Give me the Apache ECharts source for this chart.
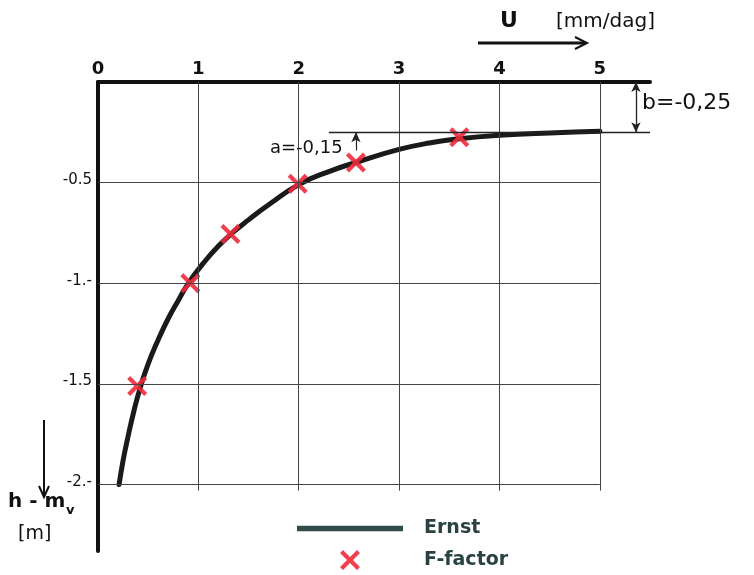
<!DOCTYPE html>
<html><head><meta charset="utf-8">
<script src="https://cdn.jsdelivr.net/npm/echarts@6/dist/echarts.min.js"></script>
<style>html,body{margin:0;padding:0;background:#fff}#c{width:754px;height:575px}</style>
</head><body><div id="c"></div>
<script>
// ---- data ----
const xTickValues = [0, 1, 2, 3, 4, 5];
const xTickLabels = ['0', '1', '2', '3', '4', '5'];
const yTickValues = [-0.5, -1, -1.5, -2];
const yTickLabels = ['-0.5', '-1.-', '-1.5', '-2.-'];
const xGrid = [1, 2, 3, 4, 5];
const yGrid = [-0.5, -1, -1.5, -2];
const ernstU = [0.21, 0.25, 0.30, 0.36, 0.42, 0.50, 0.60, 0.70, 0.80, 0.90, 1.05, 1.20, 1.35, 1.50, 1.70, 2.00, 2.30, 2.60, 3.00, 3.30, 3.60, 4.00, 4.50, 5.00];
const ernstH = [-2.00, -1.88, -1.76, -1.63, -1.52, -1.40, -1.28, -1.175, -1.085, -1.00, -0.90, -0.815, -0.745, -0.685, -0.61, -0.51, -0.445, -0.395, -0.335, -0.303, -0.282, -0.265, -0.253, -0.245];
const fU = [0.39, 0.92, 1.32, 1.99, 2.57, 3.6];
const fH = [-1.51, -1.0, -0.755, -0.505, -0.40, -0.275];
const bValue = -0.25;
const aLevel = -0.34;

const FONT = 'DejaVu Sans';
const RED = '#ee2a3c';
const XPATH = 'path://M0,3 L3,0 L10,7 L17,0 L20,3 L13,10 L20,17 L17,20 L10,13 L3,20 L0,17 L7,10 Z';
const BAR = 'path://M0,0 L100,0 L100,5 L0,5 Z';

const gridLines = [];
xGrid.forEach(v => gridLines.push([{coord: [v, 0]}, {coord: [v, -2.03]}]));
yGrid.forEach(v => gridLines.push([{coord: [0, v]}, {coord: [5, v]}]));

const chart = echarts.init(document.getElementById('c'));
chart.setOption({
  animation: false,
  grid: {left: 98, top: 82, width: 552, height: 469},
  xAxis: {
    type: 'value', position: 'top', min: 0, max: 5.5,
    axisLine: {show: true, onZero: false, lineStyle: {color: '#111', width: 4}},
    axisTick: {show: false},
    splitLine: {show: false},
    axisLabel: {
      customValues: xTickValues,
      formatter: v => xTickLabels[xTickValues.indexOf(v)] ?? '',
      fontSize: 18, fontWeight: 'bold', color: '#111', fontFamily: FONT, margin: 4
    }
  },
  yAxis: {
    type: 'value', min: -2.33, max: 0,
    axisLine: {show: true, onZero: false, lineStyle: {color: '#111', width: 4}},
    axisTick: {show: false},
    splitLine: {show: false},
    axisLabel: {
      customValues: yTickValues,
      formatter: v => yTickLabels[yTickValues.indexOf(v)] ?? '',
      fontSize: 15, color: '#111', fontFamily: FONT, margin: 6,
      verticalAlign: 'bottom', padding: [0, 0, -5, 0]
    }
  },
  legend: {
    orient: 'vertical', left: 297, top: 519, padding: 0, itemWidth: 106, itemHeight: 20, itemGap: 12,
    symbolKeepAspect: true,
    textStyle: {fontSize: 19, fontWeight: 'bold', color: '#2b4242', fontFamily: FONT, padding: [0, 0, 0, 16]},
    data: [
      {name: 'Ernst', icon: BAR, itemStyle: {color: '#2f4b4b'}},
      {name: 'F-factor', icon: XPATH, itemStyle: {color: RED}}
    ]
  },
  series: [
    {
      name: 'gridlines', type: 'line', data: [], z: 1, silent: true,
      markLine: {
        silent: true, symbol: 'none', animation: false,
        label: {show: false},
        lineStyle: {color: '#444', width: 1, type: 'solid'},
        data: gridLines.concat([
          [{coord: [2.3, bValue], lineStyle: {color: '#222', width: 1.3}}, {coord: [5.5, bValue]}],
          [{coord: [5.36, 0], symbol: 'arrow', lineStyle: {color: '#222', width: 1.3}}, {coord: [5.36, bValue], symbol: 'arrow'}],
          [{coord: [2.57, aLevel], symbol: 'none', lineStyle: {color: '#222', width: 1.2}}, {coord: [2.57, bValue], symbol: 'arrow'}]
        ]),
        symbolSize: [7, 10]
      }
    },
    {
      name: 'Ernst', type: 'line', smooth: 0.5, symbol: 'none', z: 3,
      lineStyle: {color: '#1a1a1a', width: 5, cap: 'round', join: 'round'},
      itemStyle: {color: '#2f4b4b'},
      data: ernstU.map((u, i) => [u, ernstH[i]])
    },
    {
      name: 'F-factor', type: 'scatter', symbol: XPATH, symbolSize: 20, z: 4,
      itemStyle: {color: RED, opacity: 0.9},
      data: fU.map((u, i) => [u, fH[i]])
    }
  ],
  graphic: [
    {type: 'text', left: 500, top: 10, style: {text: 'U', font: 'bold 22px ' + FONT, fill: '#111'}},
    {type: 'text', left: 556, top: 12, style: {text: '[mm/dag]', font: '20px ' + FONT, fill: '#111'}},
    {type: 'line', shape: {x1: 478, y1: 43, x2: 585, y2: 43}, style: {stroke: '#111', lineWidth: 3}},
    {type: 'polyline', shape: {points: [[575, 37], [587, 43], [575, 49]]}, style: {stroke: '#111', lineWidth: 2, fill: null}},
    {type: 'text', left: 642, top: 92, style: {text: 'b=-0,25', font: '22px ' + FONT, fill: '#111'}},
    {type: 'text', left: 270, top: 139, style: {text: 'a=-0,15', font: '18px ' + FONT, fill: '#111'}},
    {type: 'line', shape: {x1: 44, y1: 420, x2: 44, y2: 495}, style: {stroke: '#111', lineWidth: 2}},
    {type: 'polyline', shape: {points: [[39, 486], [44, 497], [49, 486]]}, style: {stroke: '#111', lineWidth: 2, fill: null}},
    {type: 'text', left: 8, top: 492, style: {text: 'h - m', font: 'bold 20px ' + FONT, fill: '#111'}},
    {type: 'text', left: 66, top: 504, style: {text: 'v', font: 'bold 13px ' + FONT, fill: '#111'}},
    {type: 'text', left: 18, top: 525, style: {text: '[m]', font: '19px ' + FONT, fill: '#111'}}
  ]
});
</script></body></html>
